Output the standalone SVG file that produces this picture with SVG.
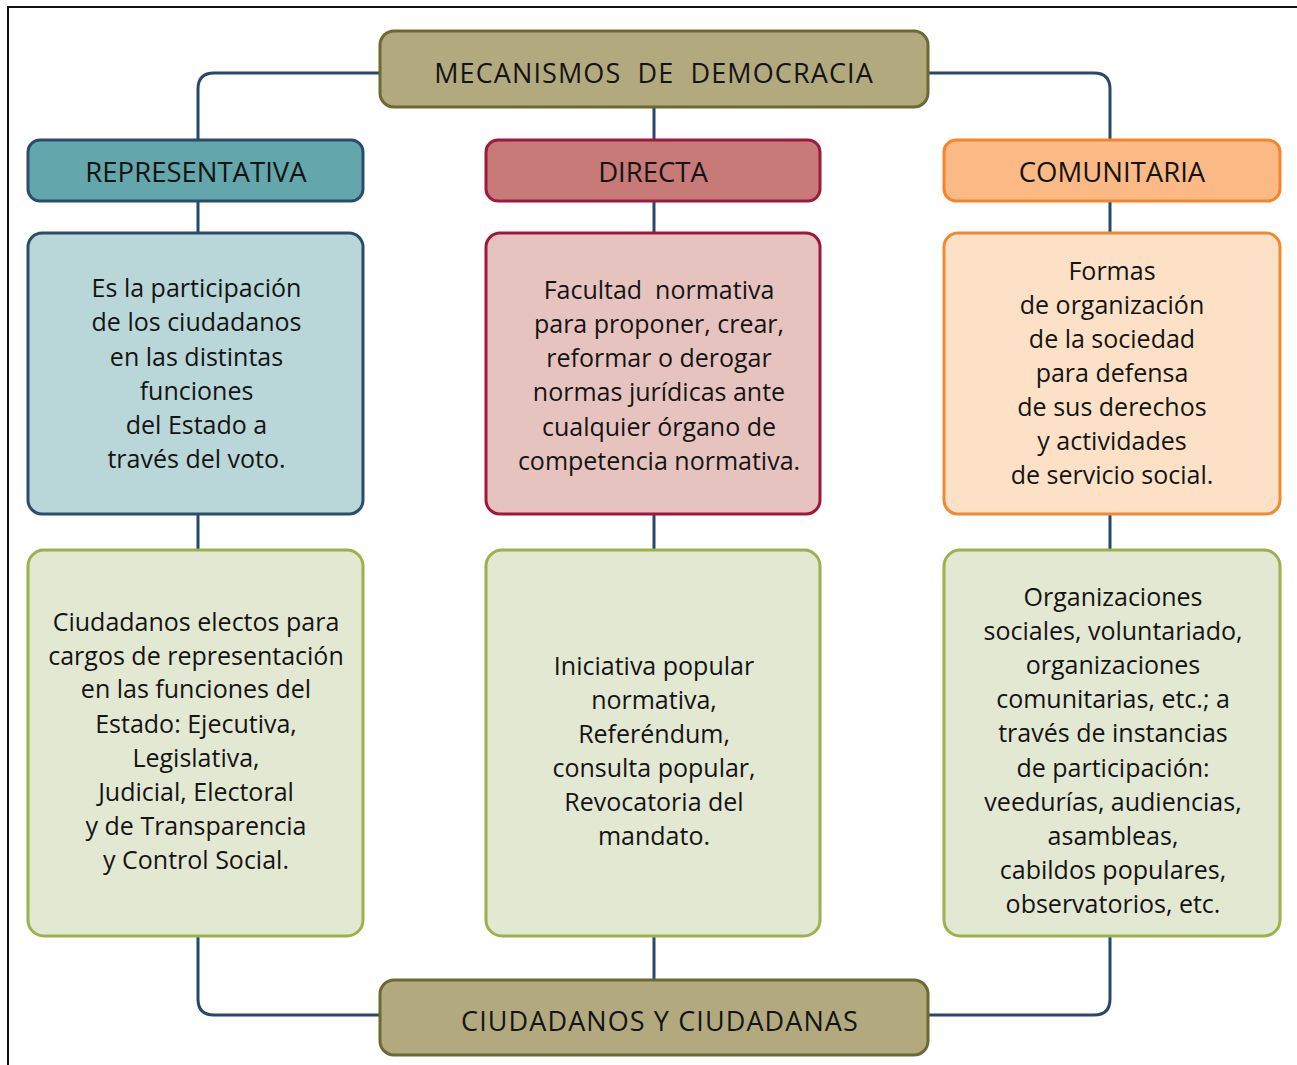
<svg xmlns="http://www.w3.org/2000/svg" width="1297" height="1065" viewBox="0 0 1297 1065">
<style>
  text { font-family: "Open Sans", "Noto Sans", sans-serif; fill: #141414; text-anchor: middle; }
  .hd { font-size: 27.5px; }
  .big { font-size: 27px; letter-spacing: 1.1px; }
  .tx { font-size: 25px; }
  .conn { fill: none; stroke: #27486a; stroke-width: 3; }
  .main { fill: #b3a97e; stroke: #6b6a33; stroke-width: 3; }
  .grn { fill: #e3e8d2; stroke: #9cb04c; stroke-width: 3; }
</style>
<rect x="0" y="0" width="1297" height="1065" fill="#ffffff"/>
<path d="M8 1065 V7 H1297" fill="none" stroke="#111" stroke-width="2"/>

<g id="connectors">
  <path class="conn" d="M380 73 H214 Q198 73 198 89 V140"/>
  <path class="conn" d="M928 73 H1094 Q1110 73 1110 89 V140"/>
  <path class="conn" d="M654 107 V140"/>
  <path class="conn" d="M198 201 V233 M654 201 V233 M1110 201 V233"/>
  <path class="conn" d="M198 514 V550 M654 514 V550 M1110 514 V550"/>
  <path class="conn" d="M198 936 V999 Q198 1015 214 1015 H380"/>
  <path class="conn" d="M1110 936 V999 Q1110 1015 1094 1015 H928"/>
  <path class="conn" d="M654 936 V980"/>
</g>

<g id="mecanismos">
  <rect class="main" x="380" y="31" width="548" height="76" rx="14"/>
  <text class="big" x="654" y="83" xml:space="preserve">MECANISMOS  DE  DEMOCRACIA</text>
</g>

<g id="representativa">
  <rect x="28" y="140" width="335" height="61" rx="12" fill="#63a6ab" stroke="#2a4d6b" stroke-width="3"/>
  <text class="hd" x="196" y="182">REPRESENTATIVA</text>
</g>
<g id="directa">
  <rect x="486" y="140" width="334" height="61" rx="12" fill="#c87a78" stroke="#9c1b3c" stroke-width="3"/>
  <text class="hd" x="653" y="182">DIRECTA</text>
</g>
<g id="comunitaria">
  <rect x="944" y="140" width="336" height="61" rx="12" fill="#fbb985" stroke="#f5842a" stroke-width="3"/>
  <text class="hd" x="1112" y="182">COMUNITARIA</text>
</g>

<g id="desc-representativa">
  <rect x="28" y="233" width="335" height="281" rx="14" fill="#b9d7d8" stroke="#2a4d6b" stroke-width="3"/>
  <text class="tx" x="196.5" y="297">Es la participación</text>
  <text class="tx" x="196.5" y="331">de los ciudadanos</text>
  <text class="tx" x="196.5" y="365.5">en las distintas</text>
  <text class="tx" x="196.5" y="399.5">funciones</text>
  <text class="tx" x="196.5" y="434">del Estado a</text>
  <text class="tx" x="196.5" y="468">través del voto.</text>
</g>
<g id="desc-directa">
  <rect x="486" y="233" width="334" height="281" rx="14" fill="#e7c3bf" stroke="#a0173a" stroke-width="3"/>
  <text class="tx" x="659" y="299" xml:space="preserve">Facultad  normativa</text>
  <text class="tx" x="659" y="333">para proponer, crear,</text>
  <text class="tx" x="659" y="367">reformar o derogar</text>
  <text class="tx" x="659" y="401">normas jurídicas ante</text>
  <text class="tx" x="659" y="436">cualquier órgano de</text>
  <text class="tx" x="659" y="470">competencia normativa.</text>
</g>
<g id="desc-comunitaria">
  <rect x="944" y="233" width="336" height="281" rx="14" fill="#fde1c6" stroke="#f08a30" stroke-width="3"/>
  <text class="tx" x="1112" y="280">Formas</text>
  <text class="tx" x="1112" y="314">de organización</text>
  <text class="tx" x="1112" y="348">de la sociedad</text>
  <text class="tx" x="1112" y="382">para defensa</text>
  <text class="tx" x="1112" y="416">de sus derechos</text>
  <text class="tx" x="1112" y="450">y actividades</text>
  <text class="tx" x="1112" y="484">de servicio social.</text>
</g>

<g id="ej-representativa">
  <rect class="grn" x="28" y="550" width="335" height="386" rx="16"/>
  <text class="tx" x="196" y="631">Ciudadanos electos para</text>
  <text class="tx" x="196" y="665">cargos de representación</text>
  <text class="tx" x="196" y="698">en las funciones del</text>
  <text class="tx" x="196" y="733">Estado: Ejecutiva,</text>
  <text class="tx" x="196" y="767">Legislativa,</text>
  <text class="tx" x="196" y="801">Judicial, Electoral</text>
  <text class="tx" x="196" y="835">y de Transparencia</text>
  <text class="tx" x="196" y="869">y Control Social.</text>
</g>
<g id="ej-directa">
  <rect class="grn" x="486" y="550" width="334" height="386" rx="16"/>
  <text class="tx" x="654" y="675">Iniciativa popular</text>
  <text class="tx" x="654" y="709">normativa,</text>
  <text class="tx" x="654" y="743">Referéndum,</text>
  <text class="tx" x="654" y="777">consulta popular,</text>
  <text class="tx" x="654" y="811">Revocatoria del</text>
  <text class="tx" x="654" y="845">mandato.</text>
</g>
<g id="ej-comunitaria">
  <rect class="grn" x="944" y="550" width="336" height="386" rx="16"/>
  <text class="tx" x="1113" y="606">Organizaciones</text>
  <text class="tx" x="1113" y="640">sociales, voluntariado,</text>
  <text class="tx" x="1113" y="674">organizaciones</text>
  <text class="tx" x="1113" y="708">comunitarias, etc.; a</text>
  <text class="tx" x="1113" y="742">través de instancias</text>
  <text class="tx" x="1113" y="777">de participación:</text>
  <text class="tx" x="1113" y="811">veedurías, audiencias,</text>
  <text class="tx" x="1113" y="845">asambleas,</text>
  <text class="tx" x="1113" y="879">cabildos populares,</text>
  <text class="tx" x="1113" y="913">observatorios, etc.</text>
</g>

<g id="ciudadanos">
  <rect class="main" x="380" y="980" width="548" height="75" rx="14"/>
  <text class="big" x="660" y="1031">CIUDADANOS Y CIUDADANAS</text>
</g>
</svg>
